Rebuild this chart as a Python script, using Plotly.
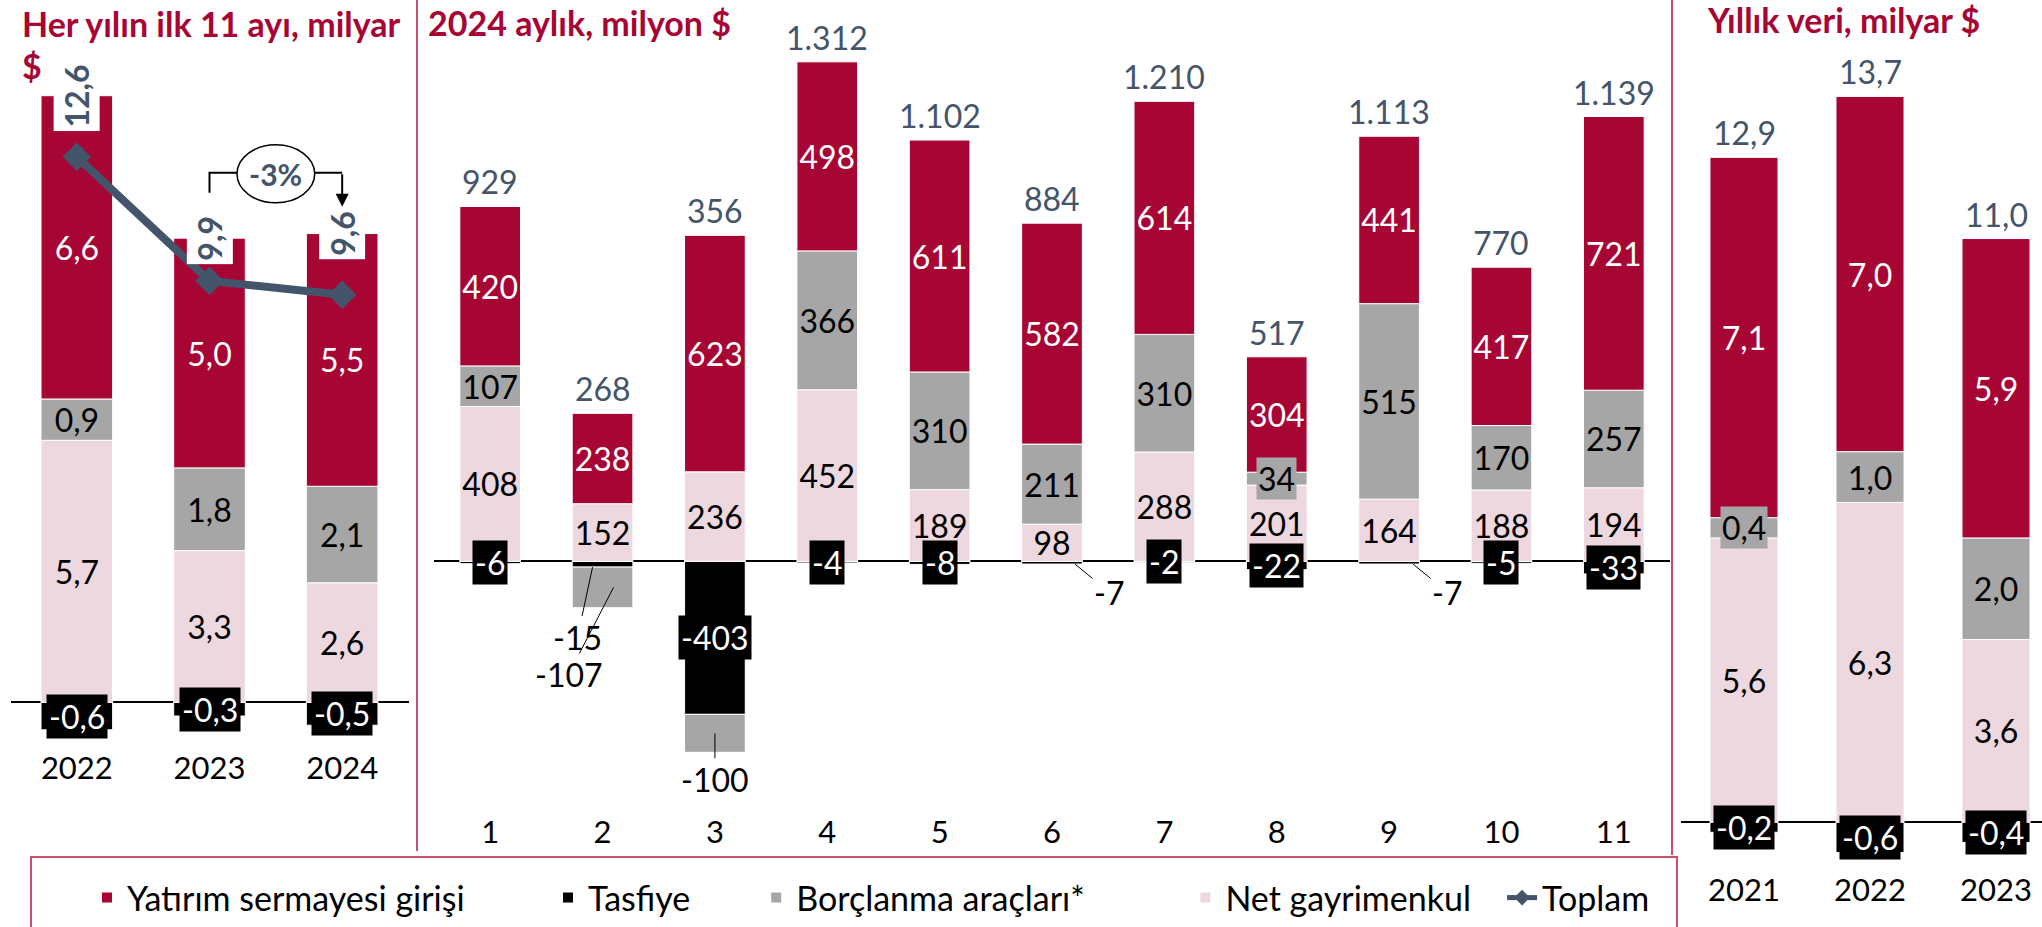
import plotly.graph_objects as go

W, H = 2042, 927

# ---------------- data ----------------
ytd_years = ["2022", "2023", "2024"]
ytd_yatirim = [6.6, 5.0, 5.5]
ytd_borclanma = [0.9, 1.8, 2.1]
ytd_gayrimenkul = [5.7, 3.3, 2.6]
ytd_tasfiye = [-0.6, -0.3, -0.5]
ytd_toplam = [12.6, 9.9, 9.6]

months = ["1", "2", "3", "4", "5", "6", "7", "8", "9", "10", "11"]
m_yatirim = [420, 238, 623, 498, 611, 582, 614, 304, 441, 417, 721]
m_borclanma = [107, -107, -100, 366, 310, 211, 310, 34, 515, 170, 257]
m_gayrimenkul = [408, 152, 236, 452, 189, 98, 288, 201, 164, 188, 194]
m_tasfiye = [-6, -15, -403, -4, -8, -7, -2, -22, -7, -5, -33]
m_toplam = [929, 268, 356, 1312, 1102, 884, 1210, 517, 1113, 770, 1139]

yr_years = ["2021", "2022", "2023"]
yr_yatirim = [7.1, 7.0, 5.9]
yr_borclanma = [0.4, 1.0, 2.0]
yr_gayrimenkul = [5.6, 6.3, 3.6]
yr_tasfiye = [-0.2, -0.6, -0.4]
yr_toplam = [12.9, 13.7, 11.0]

# ---------------- styles ----------------
RED = "#A70533"
GRAY = "#A6A6A6"
PINK = "#EDD8DF"
BLACK = "#000000"
SLATE = "#44546A"
DIV = "#C8506E"
FONT = "Lato"
LBL = 32
NBSP = "\u00a0"
legend_pad = {"Yatırım sermayesi girişi": 9, "Tasfiye": 7,
              "Borçlanma araçları*": 11, "Net gayrimenkul": 3, "Toplam": 0}


def px(x):
    return x / W


def py(y):
    return 1 - y / H


def fmt1(v):
    return f"{v:.1f}".replace(".", ",")


def fmt0(v):
    return f"{v:,.0f}".replace(",", ".")


def lname(n):
    return n + NBSP * legend_pad[n]


panels = [
    dict(cats=ytd_years, yat=ytd_yatirim, borc=ytd_borclanma, gm=ytd_gayrimenkul,
         tas=ytd_tasfiye, tot=ytd_toplam, xa="x", ya="y", fmt=fmt1,
         zero=703, scale=46.0, bottom=748, xdom=(10.5, 408.5), xr=(-0.5, 2.5),
         legend=True, totals="rotated"),
    dict(cats=months, yat=m_yatirim, borc=m_borclanma, gm=m_gayrimenkul,
         tas=m_tasfiye, tot=m_toplam, xa="x2", ya="y3", fmt=fmt0,
         zero=562, scale=0.38, bottom=812, xdom=(434, 1670), xr=(-0.5, 10.5),
         legend=False, totals="text"),
    dict(cats=yr_years, yat=yr_yatirim, borc=yr_borclanma, gm=yr_gayrimenkul,
         tas=yr_tasfiye, tot=yr_toplam, xa="x3", ya="y4", fmt=fmt1,
         zero=823, scale=50.8, bottom=870, xdom=(1681, 2042), xr=(-0.5, 2.365),
         legend=False, totals="text"),
]

series = [
    ("Tasfiye", "tas", BLACK, "white", 2),
    ("Net gayrimenkul", "gm", PINK, "black", 4),
    ("Borçlanma araçları*", "borc", GRAY, "black", 3),
    ("Yatırım sermayesi girişi", "yat", RED, "white", 1),
]

# leader-line labels (panel x-axis, series key, category index): placement
leaders = {
    ("x2", "tas", 1): dict(xshift=-10, ax=-15, ay=70),
    ("x2", "borc", 1): dict(xshift=11, ax=-45, ay=87),
    ("x2", "borc", 2): dict(xshift=0, ax=0, ay=46),
    ("x2", "tas", 5): dict(xshift=23, ax=34, ay=28),
    ("x2", "tas", 8): dict(xshift=24, ax=34, ay=28),
}

fig = go.Figure()
annotations = []

for p in panels:
    n = len(p["cats"])
    pos_base = [0.0] * n
    neg_base = [0.0] * n
    for name, key, color, tcol, rank in series:
        vals = p[key]
        texts = []
        for i, v in enumerate(vals):
            h = abs(v) * p["scale"]
            if key != "tas" and v > 0 and h >= 30:
                texts.append(p["fmt"](v))
            else:
                texts.append("")
            lk = (p["xa"], key, i)
            if v > 0 and h < 30 and key != "tas":
                annotations.append(dict(
                    x=i, y=pos_base[i] + v / 2, xref=p["xa"], yref=p["ya"],
                    xanchor="center", yanchor="middle",
                    text=p["fmt"](v), showarrow=False, bgcolor=color, borderpad=1,
                    font=dict(family=FONT, size=LBL, color=tcol)))
            elif v < 0 and lk in leaders:
                L = leaders[lk]
                yp = v if key == "tas" else neg_base[i] + v / 2
                annotations.append(dict(
                    x=i, y=yp, xref=p["xa"], yref=p["ya"],
                    text=p["fmt"](v), showarrow=True, arrowhead=0, arrowwidth=1,
                    arrowcolor="black", standoff=0, xshift=L["xshift"],
                    ax=L["ax"], ay=L["ay"],
                    font=dict(family=FONT, size=LBL, color="black")))
            elif v < 0 and key == "tas":
                annotations.append(dict(
                    x=i, y=neg_base[i] + v / 2, xref=p["xa"], yref=p["ya"],
                    xanchor="center", yanchor="middle",
                    text=p["fmt"](v), showarrow=False, bgcolor=BLACK, borderpad=2,
                    font=dict(family=FONT, size=LBL, color="white")))
            if v > 0:
                pos_base[i] += v
            else:
                neg_base[i] += v
        fig.add_trace(go.Bar(
            x=p["cats"], y=vals, name=lname(name), xaxis=p["xa"], yaxis=p["ya"],
            marker=dict(color=color, line=dict(color="white", width=1)),
            text=texts, textposition="inside", insidetextanchor="middle",
            textangle=0, constraintext="none",
            textfont=dict(family=FONT, size=LBL, color=tcol),
            legendgroup=name, showlegend=p["legend"], legendrank=rank,
            hoverinfo="skip"))
    # totals
    for i, t in enumerate(p["tot"]):
        if p["totals"] == "text":
            annotations.append(dict(
                x=i, y=pos_base[i], xref=p["xa"], yref=p["ya"],
                xanchor="center", yanchor="bottom", yshift=3,
                text=p["fmt"](t), showarrow=False,
                font=dict(family=FONT, size=LBL, color=SLATE)))
        else:
            annotations.append(dict(
                x=i, y=pos_base[i], xref=p["xa"], yref=p["ya"],
                xanchor="center", yanchor="middle",
                text="<b>" + p["fmt"](t) + "</b>", textangle=-90, showarrow=False,
                bgcolor="white", borderpad=3,
                font=dict(family=FONT, size=LBL, color=SLATE)))

# Toplam line (secondary axis of first panel)
fig.add_trace(go.Scatter(
    x=ytd_years, y=ytd_toplam, xaxis="x", yaxis="y2", name=lname("Toplam"),
    mode="lines+markers", line=dict(color=SLATE, width=8),
    marker=dict(symbol="diamond", size=22, color=SLATE),
    legendrank=5, hoverinfo="skip"))

# change annotation -3%
chg = round((ytd_toplam[2] / ytd_toplam[1] - 1) * 100)
annotations.append(dict(x=1.5, y=py(174), xref="x", yref="paper", xanchor="center",
                        yanchor="middle", text=f"<b>{chg}%</b>",
                        showarrow=False, font=dict(family=FONT, size=30, color=SLATE)))
annotations.append(dict(x=2, y=py(207), xref="x", yref="paper", text="", showarrow=True,
                        arrowhead=2, arrowsize=1.3, arrowwidth=2, arrowcolor="black",
                        ax=0, ay=-34, standoff=0))

# titles
tfont = dict(family=FONT, size=34, color=RED)
annotations += [
    dict(x=px(20), y=py(24), xref="paper", yref="paper", xanchor="left", yanchor="middle",
         text="<b>Her yılın ilk 11 ayı, milyar</b>", showarrow=False, font=tfont),
    dict(x=px(20), y=py(66), xref="paper", yref="paper", xanchor="left", yanchor="middle",
         text="<b>$</b>", showarrow=False, font=tfont),
    dict(x=px(426), y=py(23), xref="paper", yref="paper", xanchor="left", yanchor="middle",
         text="<b>2024 aylık, milyon $</b>", showarrow=False, font=tfont),
    dict(x=px(1705), y=py(20), xref="paper", yref="paper", xanchor="left", yanchor="middle",
         text="<b>Yıllık veri, milyar $</b>", showarrow=False, font=tfont),
]

shapes = [
    dict(type="line", xref="paper", yref="paper", x0=px(417), x1=px(417), y0=py(852), y1=1,
         line=dict(color=DIV, width=2)),
    dict(type="line", xref="paper", yref="paper", x0=px(1672), x1=px(1672), y0=py(856), y1=1,
         line=dict(color=DIV, width=2)),
    dict(type="rect", xref="paper", yref="paper", x0=px(31), x1=px(1677), y0=py(940), y1=py(858),
         line=dict(color=DIV, width=2), fillcolor="rgba(0,0,0,0)"),
    dict(type="circle", xref="x", yref="paper", x0=1.5 - 0.293, x1=1.5 + 0.293,
         y0=py(203), y1=py(145), line=dict(color="black", width=1.5), fillcolor="white",
         layer="below"),
    dict(type="path", xref="x", yref="paper",
         path=f"M 1,{py(193)} L 1,{py(173)} L 1.207,{py(173)}",
         line=dict(color="black", width=2)),
    dict(type="path", xref="x", yref="paper",
         path=f"M 1.793,{py(173)} L 2,{py(173)}",
         line=dict(color="black", width=2)),
]

layout_axes = {}
ynames = {"y": "yaxis", "y3": "yaxis3", "y4": "yaxis4"}
xnames = {"x": "xaxis", "x2": "xaxis2", "x3": "xaxis3"}
for p in panels:
    layout_axes[xnames[p["xa"]]] = dict(
        domain=[px(p["xdom"][0]), min(1.0, px(p["xdom"][1]))], range=list(p["xr"]),
        type="category", anchor=p["ya"], showgrid=False, zeroline=False, showline=False,
        ticks="", tickfont=dict(family=FONT, size=31, color="black"), fixedrange=True)
    layout_axes[ynames[p["ya"]]] = dict(
        domain=[py(p["bottom"]), 1],
        range=[-(p["bottom"] - p["zero"]) / p["scale"], p["zero"] / p["scale"]],
        anchor=p["xa"], showgrid=False, showticklabels=False, showline=False, ticks="",
        zeroline=True, zerolinecolor="black", zerolinewidth=1.5, fixedrange=True)

line_py0, line_scale = 157, 46.0
layout_axes["yaxis2"] = dict(
    overlaying="y", anchor="x", visible=False,
    range=[ytd_toplam[0] - (748 - line_py0) / line_scale, ytd_toplam[0] + line_py0 / line_scale])

fig.update_layout(
    width=W, height=H, margin=dict(l=0, r=0, t=0, b=0),
    paper_bgcolor="white", plot_bgcolor="rgba(0,0,0,0)",
    barmode="relative", bargap=0.46,
    font=dict(family=FONT, size=30, color="black"),
    separators=",.",
    showlegend=True,
    legend=dict(orientation="h", x=px(87), y=py(870), xanchor="left", yanchor="top",
                font=dict(family=FONT, size=34, color="black"), bgcolor="rgba(0,0,0,0)",
                borderwidth=0, itemsizing="constant", traceorder="normal"),
    annotations=annotations, shapes=shapes,
    **layout_axes,
)

fig.write_html("out.html", config={"displayModeBar": False},
               post_script="document.body.style.margin='0';document.body.style.overflow='hidden';")
